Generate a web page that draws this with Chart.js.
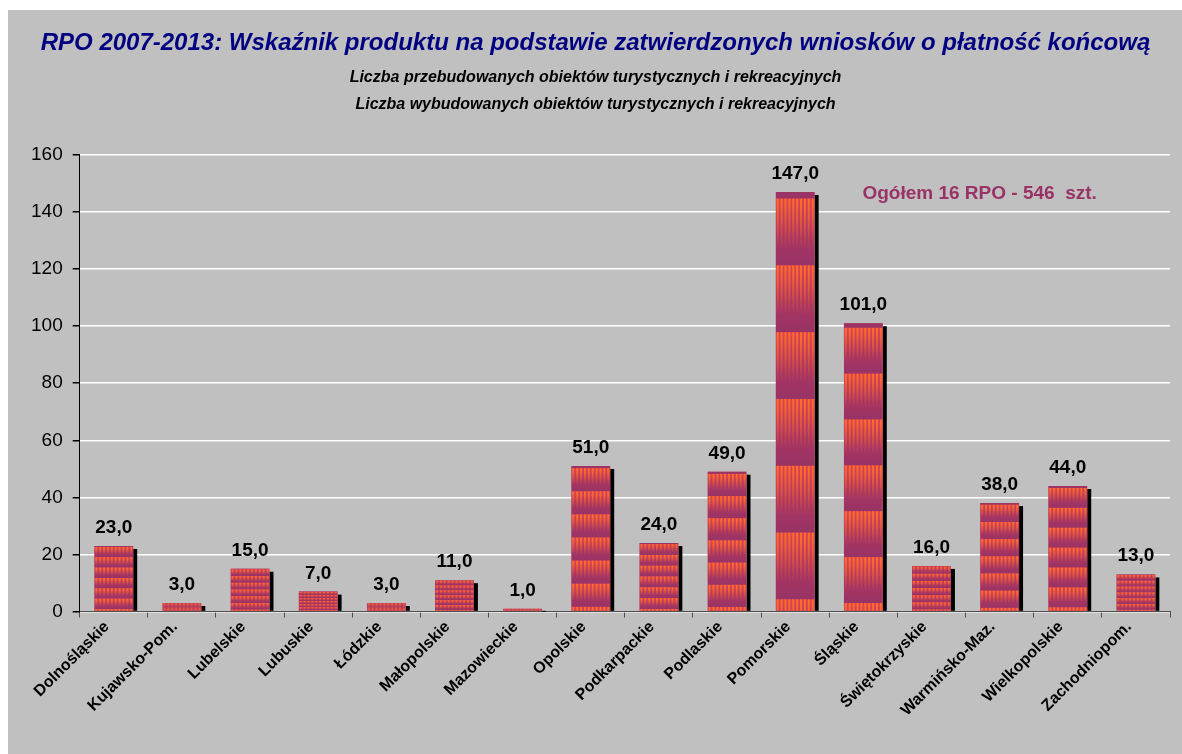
<!DOCTYPE html>
<html>
<head>
<meta charset="utf-8">
<script src="https://cdn.jsdelivr.net/npm/chart.js@4.4.1/dist/chart.umd.min.js"></script>
<style>
  body { margin: 0; background: #fff; }
  #wrap { position: absolute; left: 8px; top: 10px; width: 1174px; height: 744px; background: #c0c0c0; }
</style>
</head>
<body>
<div id="wrap"><canvas id="myChart"></canvas></div>
<script>
const categories = [
  "Dolnośląskie", "Kujawsko-Pom.", "Lubelskie", "Lubuskie", "Łódzkie", "Małopolskie",
  "Mazowieckie", "Opolskie", "Podkarpackie", "Podlaskie", "Pomorskie", "Śląskie",
  "Świętokrzyskie", "Warmińsko-Maz.", "Wielkopolskie", "Zachodniopom."
];
const values = [23, 3, 15, 7, 3, 11, 1, 51, 24, 49, 147, 101, 16, 38, 44, 13];
const yTicks = [0, 20, 40, 60, 80, 100, 120, 140, 160];

const titleText = "RPO 2007-2013: Wskaźnik produktu na podstawie zatwierdzonych wniosków o płatność końcową";
const subtitleLines = [
  "Liczba przebudowanych obiektów turystycznych i rekreacyjnych",
  "Liczba wybudowanych obiektów turystycznych i rekreacyjnych",
];
const totalNote = "Ogółem 16 RPO - 546  szt.";

const FONT = 'Arial, "Liberation Sans", sans-serif';
Chart.defaults.font.family = FONT;
Chart.defaults.color = "#000";

// shadow behind bars, striped texture on top, value labels and the total note
const barTexture = {
  id: "barTexture",
  beforeDatasetsDraw(chart) {
    const ctx = chart.ctx;
    chart.getDatasetMeta(0).data.forEach((bar) => {
      const right = bar.x + bar.width / 2;
      ctx.fillStyle = "#000";
      ctx.fillRect(right, bar.y + 3, 4, bar.base - bar.y - 3);
    });
  },
  afterDatasetsDraw(chart) {
    const ctx = chart.ctx;
    const meta = chart.getDatasetMeta(0);
    meta.data.forEach((bar, i) => {
      const w = bar.width;
      const left = bar.x - w / 2;
      const top = bar.y;
      const h = bar.base - bar.y;
      const tile = h / 6.27;
      const stripe = w / 10;

      ctx.save();
      ctx.beginPath();
      ctx.rect(left, top, w, h);
      ctx.clip();
      for (let t = top + 0.1 * tile - tile; t < bar.base; t += tile) {
        const g = ctx.createLinearGradient(0, t, 0, t + tile);
        g.addColorStop(0, "#dc4450");
        g.addColorStop(0.6, "#a83562");
        g.addColorStop(1, "#983366");
        ctx.fillStyle = g;
        ctx.fillRect(left, t, w, tile);
        const g2 = ctx.createLinearGradient(0, t, 0, t + tile);
        g2.addColorStop(0, "rgba(255,112,40,1)");
        g2.addColorStop(0.75, "rgba(255,112,40,0)");
        ctx.fillStyle = g2;
        for (let s = left + stripe * 0.25; s < left + w; s += stripe) {
          ctx.fillRect(s, t, stripe / 2, tile);
        }
      }
      ctx.restore();

      ctx.save();
      ctx.font = "bold 19px " + FONT;
      ctx.fillStyle = "#000";
      ctx.textAlign = "center";
      ctx.textBaseline = "alphabetic";
      ctx.fillText(values[i].toFixed(1).replace(".", ","), bar.x, top - 13);
      ctx.restore();
    });

    const xs = chart.scales.x;
    const ys = chart.scales.y;
    ctx.save();
    ctx.font = "bold 19px " + FONT;
    ctx.fillStyle = "#993366";
    ctx.textAlign = "center";
    ctx.textBaseline = "middle";
    ctx.fillText(totalNote, xs.getPixelForValue(13) - 20, ys.getPixelForValue(146.5));
    ctx.restore();
  },
};

const data = {
  labels: categories,
  datasets: [
    {
      data: values,
      backgroundColor: "#c8405a",
      borderWidth: 0,
      categoryPercentage: 1,
      barPercentage: 0.57,
    },
  ],
};

const config = {
  type: "bar",
  data: data,
  options: {
    responsive: true,
    maintainAspectRatio: false,
    animation: false,
    layout: { padding: { left: 13, right: 12, top: 0, bottom: 34 } },
    plugins: {
      legend: { display: false },
      tooltip: { enabled: false },
      title: {
        display: true,
        text: titleText,
        color: "#000080",
        font: { size: 24, weight: "bold", style: "italic" },
        padding: { top: 19, bottom: 6 },
      },
      subtitle: {
        display: true,
        text: subtitleLines,
        color: "#000",
        font: { size: 16, weight: "bold", style: "italic", lineHeight: 1.69 },
        padding: { top: 0, bottom: 37 },
      },
    },
    scales: {
      x: {
        border: { color: "#505050", width: 1 },
        grid: { offset: true, drawOnChartArea: false, drawTicks: true, tickLength: 6, color: "#505050" },
        ticks: {
          minRotation: 45,
          maxRotation: 45,
          padding: 0,
          labelOffset: -7,
          font: { size: 16, weight: "bold" },
          color: "#000",
        },
      },
      y: {
        min: yTicks[0],
        max: yTicks[yTicks.length - 1],
        border: { color: "#000", width: 1 },
        grid: { color: "#fff", lineWidth: 1.5, tickLength: 7, tickColor: "#000" },
        ticks: {
          stepSize: yTicks[1] - yTicks[0],
          padding: 10,
          font: { size: 19 },
          color: "#000",
        },
      },
    },
  },
  plugins: [barTexture],
};

const myChart = new Chart(document.getElementById("myChart"), config);
</script>
</body>
</html>
